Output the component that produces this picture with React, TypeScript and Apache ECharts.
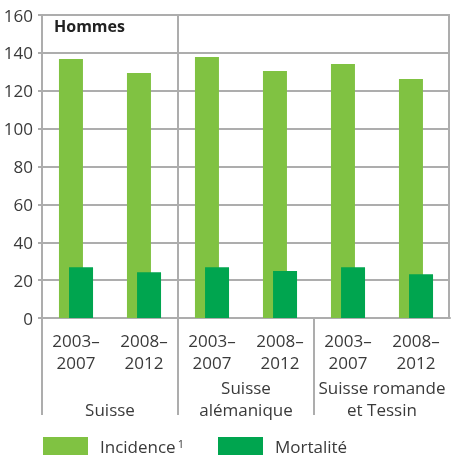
import React, { useEffect, useRef } from "react";
import * as echarts from "echarts";

const categories = ["2003–\n2007", "2008–\n2012", "2003–\n2007", "2008–\n2012", "2003–\n2007", "2008–\n2012"];
const regions = ["\nSuisse", "Suisse\nalémanique", "Suisse romande\net Tessin"];
const incidence = [136.7, 129.4, 137.8, 130.4, 134.1, 126.2];
const mortalite = [26.8, 24.1, 26.8, 24.8, 26.8, 23.1];
const yTicks = { min: 0, max: 160, interval: 20 };

const W = 451;
const H = 456;
const GL = 42;
const GR = 1;
const GT = 15;
const GB = 138;
const FONT = "'Open Sans', 'Noto Sans', sans-serif";
const TXT = "#3a3a3a";
const LINE = "#adadad";

export default function App() {
  const ref = useRef<HTMLDivElement>(null);
  useEffect(() => {
    if (!ref.current) return;
    const chart = echarts.init(ref.current, undefined, { renderer: "svg" });
    const x0 = GL;
    const x1 = W - GR;
    const yTop = GT;
    const yZero = H - GB;
    const plotW = x1 - x0;
    const sep1 = x0 + plotW / 3;
    const sep2 = x0 + (2 * plotW) / 3;
    const yBottom = 415;
    const ls = { stroke: LINE, lineWidth: 2 };
    chart.setOption({
      animation: false,
      textStyle: { fontFamily: FONT },
      grid: { left: GL, right: GR, top: GT, bottom: GB, containLabel: false },
      legend: [
        {
          left: 43,
          top: 437,
          padding: 0,
          itemWidth: 45,
          itemHeight: 18,
          data: ["Incidence"],
          icon: "rect",
          formatter: () => "Incidence{sup|1}",
          textStyle: {
            fontFamily: FONT,
            fontSize: 17,
            lineHeight: 17,
            color: TXT,
            padding: [0, 0, 0, 7],
            rich: {
              sup: { fontSize: 11, lineHeight: 11, verticalAlign: "top", padding: [0, 0, 6, 2], color: TXT, fontFamily: FONT },
            },
          },
        },
        {
          left: 218,
          top: 437,
          padding: 0,
          itemWidth: 45,
          itemHeight: 18,
          data: ["Mortalité"],
          icon: "rect",
          textStyle: { fontFamily: FONT, fontSize: 17, lineHeight: 17, color: TXT, padding: [0, 0, 0, 7] },
        },
      ],
      xAxis: [
        {
          type: "category",
          data: categories,
          position: "bottom",
          axisLine: { show: true, lineStyle: { color: LINE, width: 2 } },
          axisTick: { show: false },
          axisLabel: { color: TXT, fontSize: 17, lineHeight: 22, margin: 11, fontFamily: FONT, interval: 0 },
          splitLine: { show: false },
        },
        {
          type: "category",
          data: regions,
          position: "bottom",
          offset: 0,
          axisLine: { show: false },
          axisTick: { show: false },
          axisLabel: { color: TXT, fontSize: 17, lineHeight: 22, margin: 58, fontFamily: FONT, interval: 0 },
          splitLine: { show: false },
        },
      ],
      yAxis: {
        type: "value",
        min: yTicks.min,
        max: yTicks.max,
        interval: yTicks.interval,
        axisLine: { show: true, lineStyle: { color: LINE, width: 2 } },
        axisTick: { show: true, length: 4, lineStyle: { color: LINE, width: 2 } },
        axisLabel: { color: TXT, fontSize: 17, margin: 9, fontFamily: FONT },
        splitLine: { show: true, lineStyle: { color: LINE, width: 2 } },
      },
      series: [
        {
          name: "Incidence",
          type: "bar",
          data: incidence,
          barWidth: 24,
          barGap: "-58%",
          itemStyle: { color: "#80c242" },
        },
        {
          name: "Mortalité",
          type: "bar",
          data: mortalite,
          barWidth: 24,
          itemStyle: { color: "#00a54f" },
        },
      ],
      graphic: [
        { type: "line", shape: { x1: sep1, y1: yTop, x2: sep1, y2: yBottom }, style: ls, z: 10 },
        { type: "line", shape: { x1: sep2, y1: yZero, x2: sep2, y2: yBottom }, style: ls, z: 10 },
        { type: "line", shape: { x1: x0, y1: yZero, x2: x0, y2: yBottom }, style: ls, z: 10 },
        { type: "line", shape: { x1: x1 - 1, y1: yTop, x2: x1 - 1, y2: yZero }, style: ls, z: 10 },
        {
          type: "text",
          left: 54,
          top: 18,
          style: { text: "Hommes", fontSize: 16, fontWeight: "bold", fill: "#222", fontFamily: FONT },
          z: 10,
        },
      ],
    });
    return () => chart.dispose();
  }, []);
  return <div ref={ref} style={{ position: "fixed", left: 0, top: 0, width: W, height: H }} />;
}
